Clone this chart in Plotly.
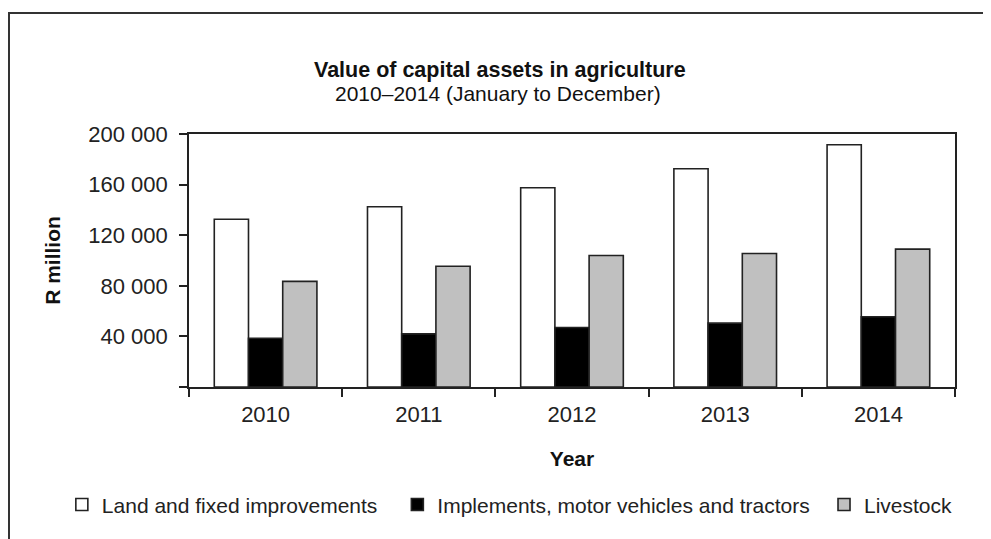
import plotly.graph_objects as go

years = ["2010", "2011", "2012", "2013", "2014"]
land = [132600, 142500, 157500, 172500, 191500]
implements = [38500, 42000, 47000, 50500, 55500]
livestock = [83500, 95500, 104000, 105500, 109000]

series_names = ["Land and fixed improvements",
                "Implements, motor vehicles and tractors",
                "Livestock"]
y_tickvals = [0, 40000, 80000, 120000, 160000, 200000]
y_ticktext = ["", "40 000", "80 000", "120 000", "160 000", "200 000"]

FONT = "Liberation Sans, Arial, sans-serif"
LINE = "#222222"

fig = go.Figure()
legend_ids = ["legend", "legend2", "legend3"]
for name, vals, color, lg in zip(series_names, [land, implements, livestock],
                                 ["#FFFFFF", "#000000", "#C0C0C0"], legend_ids):
    fig.add_trace(go.Bar(x=years, y=vals, name=name, legend=lg,
                         marker=dict(color=color, line=dict(color=LINE, width=1.6))))

leg_common = dict(orientation="h", y=-0.466, xanchor="left", yanchor="middle",
                  font=dict(size=21, color="#222"), itemwidth=30,
                  bgcolor="rgba(0,0,0,0)")

fig.update_layout(
    width=991, height=539,
    margin=dict(l=181, r=44, t=126, b=160),
    paper_bgcolor="white", plot_bgcolor="white",
    barmode="group", bargap=0.33, bargroupgap=0,
    font=dict(family=FONT, size=20, color="#222"),
    showlegend=True,
    legend=dict(x=-0.166, **leg_common),
    legend2=dict(x=0.272, **leg_common),
    legend3=dict(x=0.829, **leg_common),
    annotations=[
        dict(text="<b>Value of capital assets in agriculture</b>", xref="paper", yref="paper",
             x=0.406, y=1.253, xanchor="center", yanchor="middle", showarrow=False,
             font=dict(size=21.5, color="#111")),
        dict(text="2010\u20132014 (January to December)", xref="paper", yref="paper",
             x=0.403, y=1.160, xanchor="center", yanchor="middle", showarrow=False,
             font=dict(size=21, color="#111")),
    ],
    shapes=[dict(type="rect", xref="paper", yref="paper", x0=-0.235, y0=-1.0,
                 x1=1.3, y1=1.478, line=dict(color="#333", width=2), layer="below")],
)

fig.update_xaxes(showline=True, linecolor=LINE, linewidth=1.6, mirror=True,
                 ticks="outside", tickson="boundaries", ticklen=8, tickwidth=1.6,
                 tickcolor=LINE, showgrid=False, ticklabelstandoff=7,
                 tickfont=dict(size=22, color="#222"),
                 title=dict(text="<b>Year</b>", font=dict(size=21, color="#111"), standoff=25))
fig.update_yaxes(range=[0, 200000], tickvals=y_tickvals, ticktext=y_ticktext,
                 showline=True, linecolor=LINE, linewidth=1.6, mirror=True,
                 ticks="outside", ticklen=8, tickwidth=1.6, tickcolor=LINE,
                 showgrid=False, zeroline=False, ticklabelstandoff=7,
                 tickfont=dict(size=22, color="#222"),
                 title=dict(text="<b>R million</b>", font=dict(size=21, color="#111"), standoff=22))

fig.write_html("out.html")
